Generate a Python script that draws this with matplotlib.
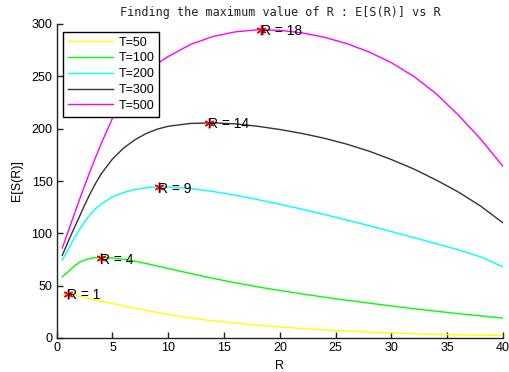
import matplotlib
matplotlib.use("Agg")
import matplotlib.pyplot as plt

R = [0.5, 1, 1.5, 2, 2.5, 3, 3.5, 4, 5, 6, 7, 8, 9, 10, 12, 14, 16, 18, 20,
     22, 24, 26, 28, 30, 32, 34, 36, 38, 40]

T50 = [41, 42, 41.5, 40, 38.8, 37.5, 36.2, 35, 33, 30.5, 28.5, 26.5, 24.5, 22.5, 19,
       16.5, 14.3, 12.2, 10.5, 9, 7.7, 6.6, 5.6, 4.8, 4.1, 3.5, 3, 2.7, 2.5]
T100 = [58.5, 63, 68, 72, 74.5, 76, 76.8, 77, 76.5, 75.2, 73.4, 71.2, 68.8, 66.4, 61.6,
        57, 52.8, 48.9, 45.4, 42.1, 39, 36.1, 33.3, 30.6, 28, 25.6, 23.3, 21.1, 19]
T200 = [74.5, 84, 94, 103, 111, 118, 123.5, 128, 135, 139, 141.8, 143.5, 144.3,
        144.3, 142.8, 140, 136.4, 132.3, 127.8, 123, 118, 112.7, 107.3, 101.7, 96,
        90.2, 84.2, 77.5, 68]
T300 = [79, 91.5, 103.5, 115, 127, 138, 148, 157, 171, 181.5, 189.3, 195.3, 199.5,
        202.3, 205, 205.6, 204.6, 202.3, 199.2, 195.4, 190.8, 185.2, 178.5, 170.5, 161.5,
        151, 139.5, 126, 110]
T500 = [86, 101, 116, 131, 145.5, 159.5, 173, 186, 210, 229, 243, 253.5, 262, 269,
        280.5, 288, 292.5, 294.5, 294, 291.5, 287.3, 281.3, 273.3, 263, 250,
        233.5, 213, 190, 164]

series = [T50, T100, T200, T300, T500]
labels = ["T=50", "T=100", "T=200", "T=300", "T=500"]
colors = ["#ffff00", "#00ff00", "#00ffff", "#333333", "#ff00ff"]

peak_R = [1.0, 3.95, 9.15, 13.65, 18.35]
peak_val = [42.5, 76.5, 144.3, 205.7, 294.6]
peak_text = ["R = 1", "R = 4", "R = 9", "R = 14", "R = 18"]

W, H = 509, 372
fig = plt.figure(figsize=(W / 100, H / 100), dpi=100)
ax = fig.add_axes([56.7 / W, 1 - 338 / H, (503 - 56.7) / W, (338 - 24) / H])

sans = ["Liberation Sans", "DejaVu Sans"]
for s, lab, c in zip(series, labels, colors):
    ax.plot(R, s, color=c, lw=1.0, label=lab)

for x, y, t in zip(peak_R, peak_val, peak_text):
    ax.plot([x], [y], marker=(6, 2, 0), color="red", markersize=7,
            markeredgewidth=1.0, lw=0)
    ax.text(x - 0.05, y - 1.5, t, ha="left", va="center", fontsize=10,
            family=sans, color="black")

ax.set_xlim(0, 40)
ax.set_ylim(0, 300)
ax.set_xticks([0, 5, 10, 15, 20, 25, 30, 35, 40])
ax.set_yticks([0, 50, 100, 150, 200, 250, 300])
for sp in ["top", "right"]:
    ax.spines[sp].set_visible(False)
for sp in ["left", "bottom"]:
    ax.spines[sp].set_linewidth(1.0)
    ax.spines[sp].set_color("#222222")
ax.tick_params(direction="in", length=4, width=1, labelsize=9, colors="#222222",
               labelcolor="black", pad=3)
for lab in ax.get_xticklabels() + ax.get_yticklabels():
    lab.set_family(sans)

ax.set_xlabel("R", fontsize=9, family=sans, labelpad=4)
ax.set_ylabel("E[S(R)]", fontsize=9, family=sans, labelpad=6)
ax.set_title("Finding the maximum value of R : E[S(R)] vs R", fontsize=8.5,
             family=["DejaVu Sans Mono"], pad=6, color="#222222")

leg = ax.legend(loc="upper left", bbox_to_anchor=(0.0148, 0.9755),
                borderaxespad=0, fancybox=False, framealpha=1,
                edgecolor="black", prop={"family": sans, "size": 9},
                handlelength=3.6, handletextpad=0.4, labelspacing=0.3,
                borderpad=0.4)
leg.get_frame().set_linewidth(1.0)

fig.savefig("out.png", dpi=100)
